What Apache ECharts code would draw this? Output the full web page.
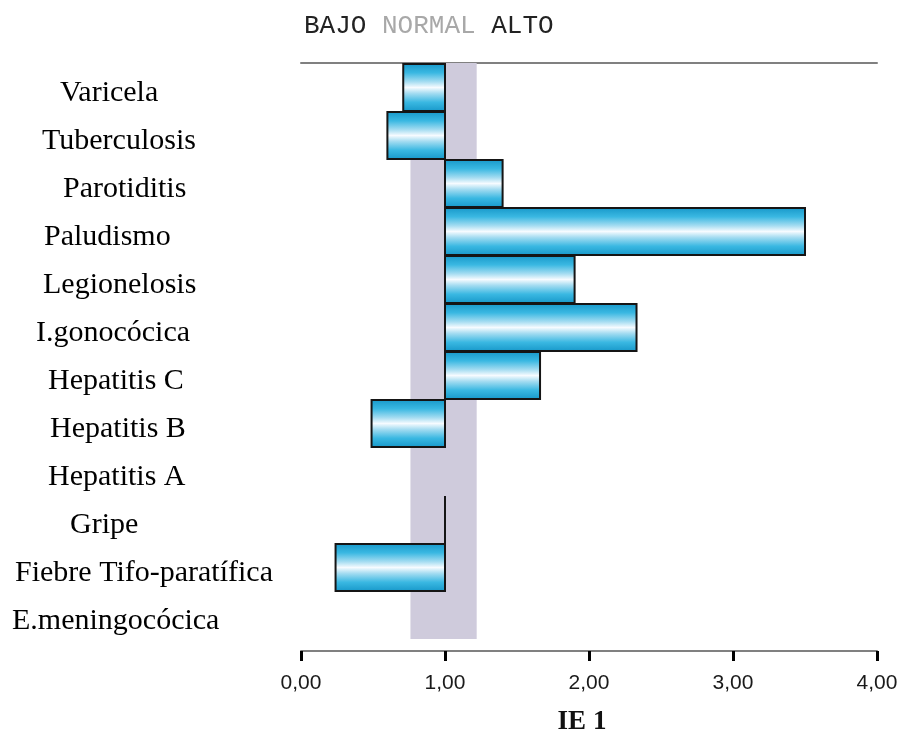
<!DOCTYPE html>
<html>
<head>
<meta charset="utf-8">
<script src="https://cdn.jsdelivr.net/npm/echarts@6/dist/echarts.min.js"></script>
<style>html,body{margin:0;padding:0;background:#fff;}#c{width:901px;height:735px;}</style>
</head>
<body>
<div id="c"></div>
<script>
var categories = ["Varicela","Tuberculosis","Parotiditis","Paludismo","Legionelosis","I.gonocócica","Hepatitis C","Hepatitis B","Hepatitis A","Gripe","Fiebre Tifo-paratífica","E.meningocócica"];
var ieValues = [0.71, 0.60, 1.40, 3.50, 1.90, 2.33, 1.66, 0.49, null, 1.00, 0.24, null];
var baseValue = 1.0;
var normalRange = [0.76, 1.22];
var xTicks = [0, 1, 2, 3, 4];

// style only: left indent of each category label (px from page left)
var labelIndent = [60,42,63,44,43,36,48,50,48,70,15,12];

var chart = echarts.init(document.getElementById('c'));
var barData = [];
ieValues.forEach(function(v, i){ if (v !== null) barData.push([v, i]); });

var rich = {};
labelIndent.forEach(function(l, i){
  rich['p' + i] = {padding: [12, 0, 0, l - 12], fontFamily: 'Liberation Serif', fontSize: 30, color: '#000'};
});

chart.setOption({
  animation: false,
  backgroundColor: '#fff',
  title: {
    left: 299, top: 8,
    text: '{a|BAJO }{b|NORMAL}{a| ALTO}',
    textStyle: {
      fontWeight: 'normal', fontFamily: 'Liberation Mono', fontSize: 26,
      rich: {
        a: {fontFamily: 'Liberation Mono', fontSize: 26, fontWeight: 'normal', color: '#222'},
        b: {fontFamily: 'Liberation Mono', fontSize: 26, fontWeight: 'normal', color: '#a8a8a8'}
      }
    }
  },
  grid: {left: 301, right: 24, top: 63, height: 576, containLabel: false, outerBoundsMode: 'none'},
  xAxis: [{
    type: 'value', min: xTicks[0], max: xTicks[xTicks.length-1], interval: 1,
    position: 'bottom', offset: 12,
    name: 'IE 1', nameLocation: 'middle', nameGap: 58,
    nameTextStyle: {fontFamily: 'Liberation Serif', fontWeight: 'bold', fontSize: 27, color: '#111', padding: [0, 14, 0, 0]},
    axisLine: {show: true, lineStyle: {color: '#808080', width: 2}},
    axisTick: {show: true, length: 10, lineStyle: {color: '#000', width: 3}},
    axisLabel: {margin: 22, fontFamily: 'Liberation Sans', fontSize: 21, color: '#1a1a1a',
      formatter: function(v){ return v.toFixed(2).replace('.', ','); }},
    splitLine: {show: false}
  }, {
    type: 'value', min: 0, max: 4, position: 'top',
    axisLine: {show: true, lineStyle: {color: '#808080', width: 2}},
    axisTick: {show: false}, axisLabel: {show: false}, splitLine: {show: false}
  }],
  yAxis: {
    type: 'category', inverse: true, data: categories,
    axisLine: {show: false}, axisTick: {show: false}, splitLine: {show: false},
    axisLabel: {
      align: 'left', margin: 289,
      formatter: function(v, i){ return '{p' + i + '|' + v + '}'; },
      rich: rich
    }
  },
  series: [{
    type: 'line', data: [], z: 1,
    markArea: {
      silent: true,
      itemStyle: {color: '#cfcbdc'},
      data: [[{xAxis: normalRange[0]}, {xAxis: normalRange[1]}]]
    }
  }, {
    type: 'custom', z: 3,
    data: barData,
    encode: {x: 0, y: 1},
    renderItem: function(params, api){
      var v = api.value(0), c = api.value(1);
      var p0 = api.coord([baseValue, c]);
      var p1 = api.coord([v, c]);
      var h = api.size([0, 1])[1];
      var x = Math.min(p0[0], p1[0]);
      var w = Math.abs(p1[0] - p0[0]);
      return {
        type: 'rect',
        shape: {x: x, y: p0[1] - h/2 + 1, width: w, height: h - 1},
        style: {
          fill: new echarts.graphic.LinearGradient(0, 0, 0, 1, [
            {offset: 0, color: '#1596c8'},
            {offset: 0.2, color: '#3ab8e2'},
            {offset: 0.38, color: '#a4dcf1'},
            {offset: 0.5, color: '#f6fbff'},
            {offset: 0.62, color: '#a4dcf1'},
            {offset: 0.8, color: '#3ab8e2'},
            {offset: 1, color: '#1596c8'}
          ]),
          stroke: '#151515', lineWidth: 2
        }
      };
    }
  }]
});
</script>
</body>
</html>
